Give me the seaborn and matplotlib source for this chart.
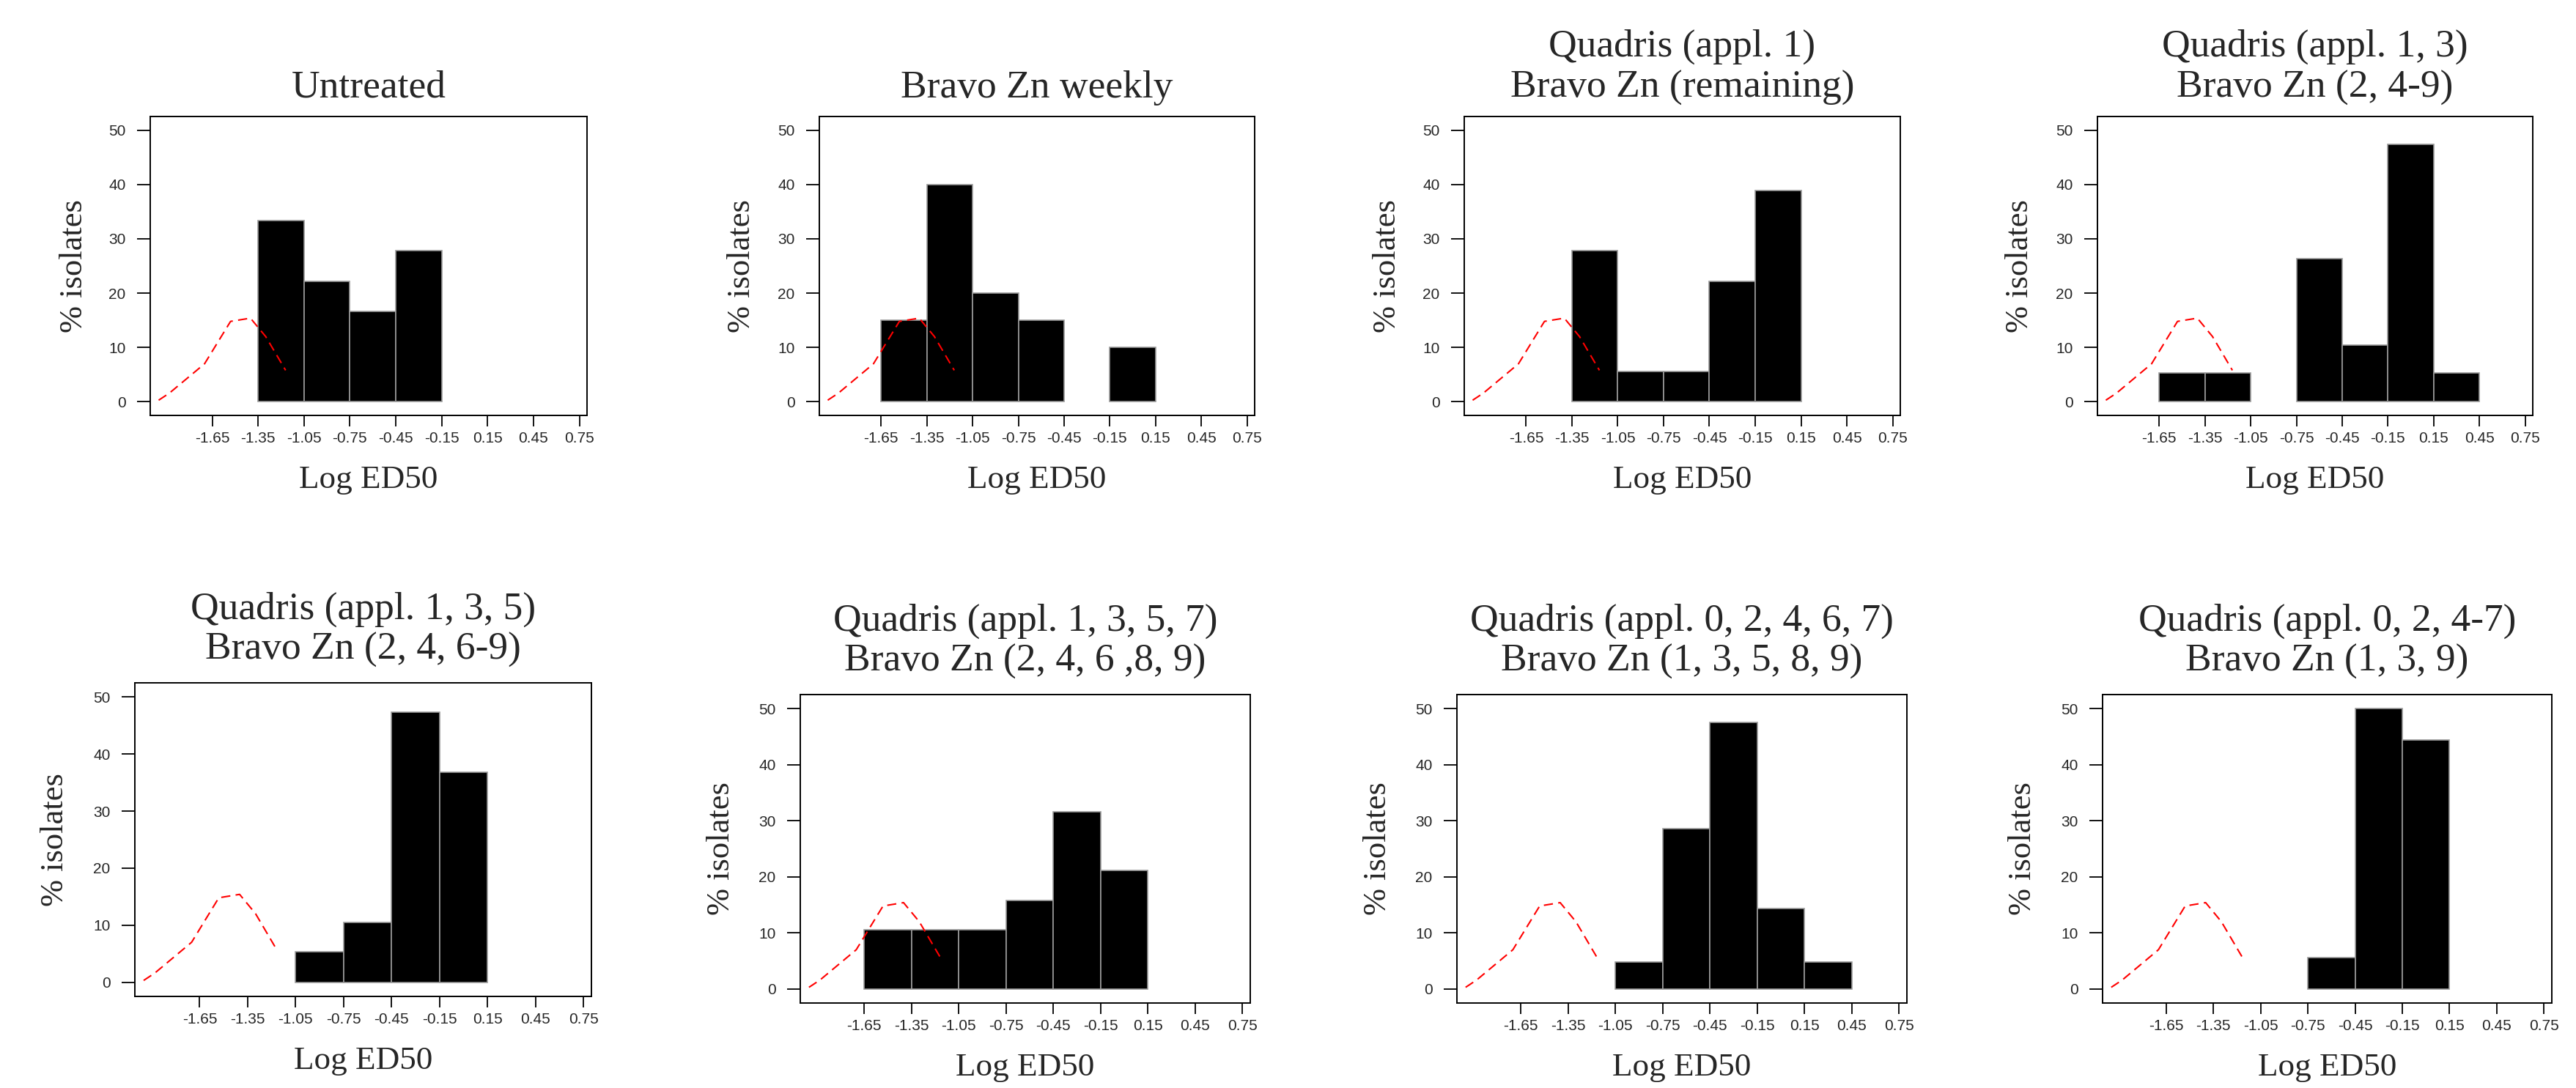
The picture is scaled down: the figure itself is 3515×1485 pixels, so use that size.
import matplotlib
matplotlib.use('Agg')
import matplotlib.pyplot as plt
import seaborn as sns
import pandas as pd

# histogram bins (Log ED50) and axis ticks
bin_edges = [-1.65, -1.35, -1.05, -0.75, -0.45, -0.15, 0.15, 0.45]
tick_values = [-1.65, -1.35, -1.05, -0.75, -0.45, -0.15, 0.15, 0.45, 0.75]
tick_labels = ['-1.65', '-1.35', '-1.05', '-0.75', '-0.45', '-0.15', '0.15', '0.45', '0.75']

# baseline sensitivity curve (red dashed)
base_x = [-2.0, -1.93, -1.70, -1.53, -1.40, -1.30, -1.17]
base_y = [0.3, 1.6, 7.0, 14.8, 15.4, 12.0, 5.8]

titles = [
    'Untreated',
    'Bravo Zn weekly',
    'Quadris (appl. 1)\nBravo Zn (remaining)',
    'Quadris (appl. 1, 3)\nBravo Zn (2, 4-9)',
    'Quadris (appl. 1, 3, 5)\nBravo Zn (2, 4, 6-9)',
    'Quadris (appl. 1, 3, 5, 7)\nBravo Zn (2, 4, 6 ,8, 9)',
    'Quadris (appl. 0, 2, 4, 6, 7)\nBravo Zn (1, 3, 5, 8, 9)',
    'Quadris (appl. 0, 2, 4-7)\nBravo Zn (1, 3, 9)',
]

# % isolates in each bin (one value per interval of bin_edges)
untreated = [0, 33.3, 22.2, 16.7, 27.8, 0, 0]
bravo_weekly = [15.0, 40.0, 20.0, 15.0, 0, 10.0, 0]
quadris_1 = [0, 27.8, 5.6, 5.6, 22.2, 38.9, 0]
quadris_1_3 = [5.3, 5.3, 0, 26.3, 10.5, 47.4, 5.3]
quadris_1_3_5 = [0, 0, 5.3, 10.5, 47.4, 36.8, 0]
quadris_1_3_5_7 = [10.5, 10.5, 10.5, 15.8, 31.6, 21.1, 0]
quadris_0_2_4_6_7 = [0, 0, 4.8, 28.6, 47.6, 14.3, 4.8]
quadris_0_2_4to7 = [0, 0, 0, 5.6, 50.0, 44.4, 0]
series = [untreated, bravo_weekly, quadris_1, quadris_1_3,
          quadris_1_3_5, quadris_1_3_5_7, quadris_0_2_4_6_7, quadris_0_2_4to7]

# axes boxes in pixels: left, top, right, bottom
W, H = 3516, 1485
boxes = [(205, 159, 801, 567), (1118, 159, 1712, 567), (1998, 159, 2593, 567), (2862, 159, 3456, 567),
         (184, 932, 807, 1360), (1092, 948, 1706, 1369), (1988, 948, 2602, 1369), (2869, 948, 3482, 1369)]
title_pads = [18.8, 18.8, 18.8, 18.8, 23, 23, 23, 23]
ylab_gap = [93, 95, 94, 95, 98, 97, 97, 98]

sns.set_style('ticks')
plt.rcParams['font.family'] = ['Liberation Serif', 'DejaVu Serif']

fig = plt.figure(figsize=(W / 100, H / 100), dpi=100)

centers = [(a + b) / 2 for a, b in zip(bin_edges[:-1], bin_edges[1:])]

for title, vals, (l, t, r, b), tp, yg in zip(titles, series, boxes, title_pads, ylab_gap):
    ax = fig.add_axes([l / W, 1 - b / H, (r - l) / W, (b - t) / H])
    df = pd.DataFrame({'x': centers, 'pct': vals})
    sns.histplot(data=df, x='x', weights='pct', bins=bin_edges, ax=ax,
                 color='black', edgecolor='#9a9a9a', linewidth=1.2, alpha=1)
    for p in list(ax.patches):
        if p.get_height() == 0:
            p.remove()
    sns.lineplot(x=base_x, y=base_y, ax=ax, color='red', lw=1.5,
                 linestyle=(0, (6, 3.5)), sort=False)

    ax.set_xlim(-2.055, 0.80)
    ax.set_ylim(-2.5, 52.5)
    ax.set_xticks(tick_values)
    ax.set_xticklabels(tick_labels, family='Liberation Sans', fontsize=15)
    ax.set_yticks([0, 10, 20, 30, 40, 50])
    ax.set_yticklabels(['0', '10', '20', '30', '40', '50'], family='Liberation Sans', fontsize=15)
    ax.tick_params(axis='both', direction='out', width=1.3, color='black')
    ax.tick_params(axis='x', length=11, pad=5)
    ax.tick_params(axis='y', length=13, pad=11)
    for s in ax.spines.values():
        s.set_visible(True)
        s.set_linewidth(1.4)
        s.set_color('black')

    ax.set_title(title, fontsize=38.5, pad=tp, linespacing=1.2)
    h_px = b - t
    w_px = r - l
    ax.set_xlabel('Log ED50', fontsize=32.5)
    ax.xaxis.set_label_coords(0.5, -99 / h_px)
    ax.xaxis.label.set_va('baseline')
    ax.set_ylabel('% isolates', fontsize=32)
    ax.yaxis.set_label_coords(-yg / w_px, 0.5)
    ax.yaxis.label.set_va('baseline')

fig.savefig('out.png', dpi=100, facecolor='white')
